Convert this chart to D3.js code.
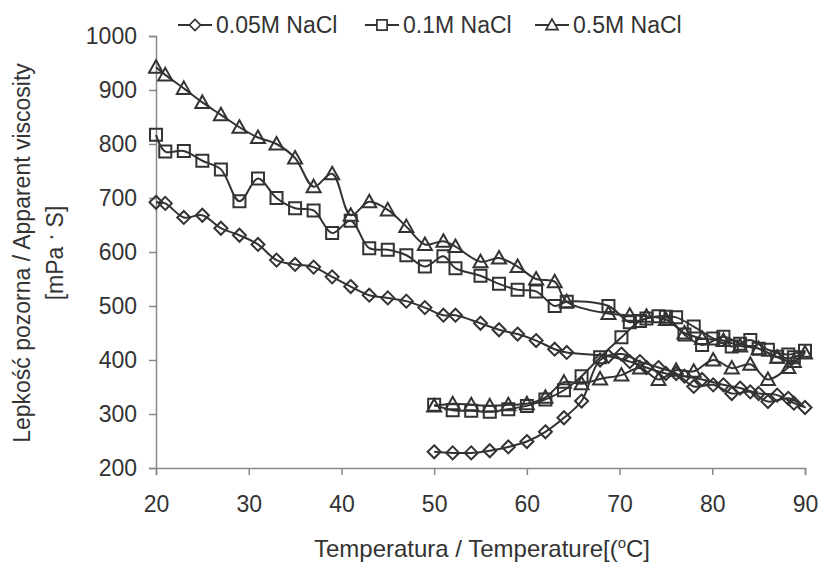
<!DOCTYPE html>
<html>
<head>
<meta charset="utf-8">
<script src="https://cdn.jsdelivr.net/npm/d3@7"></script>
<style>
  body { margin: 0; background: #fff; }
  text { font-family: "Liberation Sans", Arial, sans-serif; fill: #333; }
</style>
</head>
<body>
<div id="chart"></div>
<script>
// heating run (20 -> 90) followed by cooling run (90 -> 50)
const tempsUp = [20, 21, 23, 25, 27, 29, 31, 33, 35, 37, 39, 41, 43, 45, 47, 49, 51, 52.3, 55, 57, 59, 61, 63, 64.3,
                 68.8, 71.1, 72.9, 75, 77, 78.9, 81.2, 83, 85, 87, 88.8, 90];
const tempsDown = [90, 88.2, 86, 84.1, 82.1, 80.1, 78, 76.1, 74.2, 72.2, 70.2, 67.9, 65.9, 64, 62, 60, 58, 56, 54, 52, 50];

const nacl005Up = [692, 690, 664, 668, 644, 631, 614, 585, 577, 572, 554, 536, 520, 515, 509, 497, 483, 483, 468, 456, 448, 436, 420, 414,
                   407, 397, 386, 375, 370, 364, 354, 348, 338, 335, 320, 312];
const nacl005Down = [312, 329, 323, 341, 338, 354, 351, 375, 386, 397, 411, 400, 324, 293, 267, 249, 239, 232, 228, 228, 230];

const nacl01Up = [817, 786, 787, 769, 753, 694, 736, 700, 681, 677, 635, 658, 607, 604, 594, 573, 592, 570, 556, 541, 530, 527, 500, 508,
                  500, 470, 477, 480, 447, 428, 443, 430, 421, 406, 405, 417];
const nacl01Down = [417, 410, 419, 437, 425, 440, 462, 479, 481, 472, 442, 405, 370, 344, 327, 315, 309, 304, 306, 307, 317];

const nacl05Up = [942, 928, 903, 877, 854, 831, 812, 800, 774, 721, 745, 668, 693, 678, 647, 614, 620, 610, 582, 589, 573, 550, 545, 508,
                  486, 483, 481, 475, 450, 440, 436, 426, 421, 405, 397, 413];
const nacl05Down = [413, 386, 364, 392, 385, 400, 379, 381, 364, 385, 372, 365, 356, 359, 331, 319, 317, 315, 317, 319, 315];

const seriesNames = ['0.05M NaCl', '0.1M NaCl', '0.5M NaCl'];
const markerTypes = ['diamond', 'square', 'triangle'];
const xTicks = [20, 30, 40, 50, 60, 70, 80, 90];
const yTicks = [200, 300, 400, 500, 600, 700, 800, 900, 1000];

function joinRuns(up, down) {
    const pts = tempsUp.map((t, i) => ({t: t, v: up[i]}));
    return pts.concat(tempsDown.slice(1).map((t, i) => ({t: t, v: down[i + 1]})));
}
const series = [
    joinRuns(nacl005Up, nacl005Down),
    joinRuns(nacl01Up, nacl01Down),
    joinRuns(nacl05Up, nacl05Down)
];

const W = 820, H = 562;
const margin = {top: 36, right: 15, bottom: 94, left: 156};
const ink = '#333';
const fontSize = 23;

const svg = d3.select('#chart').append('svg')
    .attr('width', W)
    .attr('height', H);

const xScale = d3.scaleLinear().domain([20, 90]).range([margin.left, W - margin.right]);
const yScale = d3.scaleLinear().domain([200, 1000]).range([H - margin.bottom, margin.top]);

function markerPath(type) {
    if (type === 'diamond') return 'M0,-6.5L6.5,0L0,6.5L-6.5,0Z';
    if (type === 'square') return 'M-6,-6H6V6H-6Z';
    return 'M0,-7L7,5.5H-7Z';
}

// axes
const xAxis = d3.axisBottom(xScale).tickValues(xTicks).tickSize(7).tickPadding(21).tickFormat(d3.format('d'));
const yAxis = d3.axisLeft(yScale).tickValues(yTicks).tickSize(7).tickPadding(12).tickFormat(d3.format('d'));

const gx = svg.append('g')
    .attr('transform', 'translate(0,' + (H - margin.bottom) + ')')
    .call(xAxis);
const gy = svg.append('g')
    .attr('transform', 'translate(' + margin.left + ',0)')
    .call(yAxis);

[gx, gy].forEach(g => {
    g.select('.domain').attr('stroke', '#888').attr('stroke-width', 1.5);
    g.selectAll('.tick line').attr('stroke', '#888').attr('stroke-width', 1.5);
    g.selectAll('.tick text').attr('font-size', fontSize).attr('fill', ink)
        .style('font-family', '"Liberation Sans", Arial, sans-serif');
});

// lines
const line = d3.line()
    .x(d => xScale(d.t))
    .y(d => yScale(d.v))
    .curve(d3.curveCatmullRom.alpha(0.5));

series.forEach((pts, i) => {
    svg.append('path')
        .datum(pts)
        .attr('d', line)
        .attr('fill', 'none')
        .attr('stroke', ink)
        .attr('stroke-width', 2);

    svg.append('g').selectAll('path')
        .data(pts)
        .enter()
        .append('path')
        .attr('d', markerPath(markerTypes[i]))
        .attr('transform', d => 'translate(' + xScale(d.t) + ',' + yScale(d.v) + ')')
        .attr('fill', 'none')
        .attr('stroke', ink)
        .attr('stroke-width', 2);
});

// legend
const legendX = [178, 365, 535];
const legend = svg.append('g');
seriesNames.forEach((name, i) => {
    const g = legend.append('g').attr('transform', 'translate(' + legendX[i] + ',25)');
    g.append('line').attr('x1', 0).attr('x2', 34).attr('y1', 0).attr('y2', 0)
        .attr('stroke', ink).attr('stroke-width', 2);
    g.append('path').attr('d', markerPath(markerTypes[i]))
        .attr('transform', 'translate(17,0) scale(0.85)')
        .attr('fill', '#fff').attr('stroke', ink).attr('stroke-width', 2);
    g.append('text').attr('x', 38).attr('y', 8).attr('font-size', fontSize).text(name);
});

// axis titles
const xt = svg.append('text')
    .attr('x', 482).attr('y', 557)
    .attr('text-anchor', 'middle')
    .attr('font-size', 24);
xt.append('tspan').text('Temperatura / Temperature[(');
xt.append('tspan').attr('dy', -9).attr('font-size', 15).text('o');
xt.append('tspan').attr('dy', 9).text('C]');

svg.append('text')
    .attr('transform', 'translate(30,253) rotate(-90)')
    .attr('text-anchor', 'middle')
    .attr('font-size', fontSize)
    .text('Lepkość pozorna / Apparent viscosity');

const yt2 = svg.append('text')
    .attr('transform', 'translate(63,253) rotate(-90)')
    .attr('text-anchor', 'middle')
    .attr('font-size', fontSize);
yt2.append('tspan').text('[mPa ');
yt2.append('tspan').attr('dy', -10).text('.');
yt2.append('tspan').attr('dy', 10).text(' S]');
</script>
</body>
</html>
